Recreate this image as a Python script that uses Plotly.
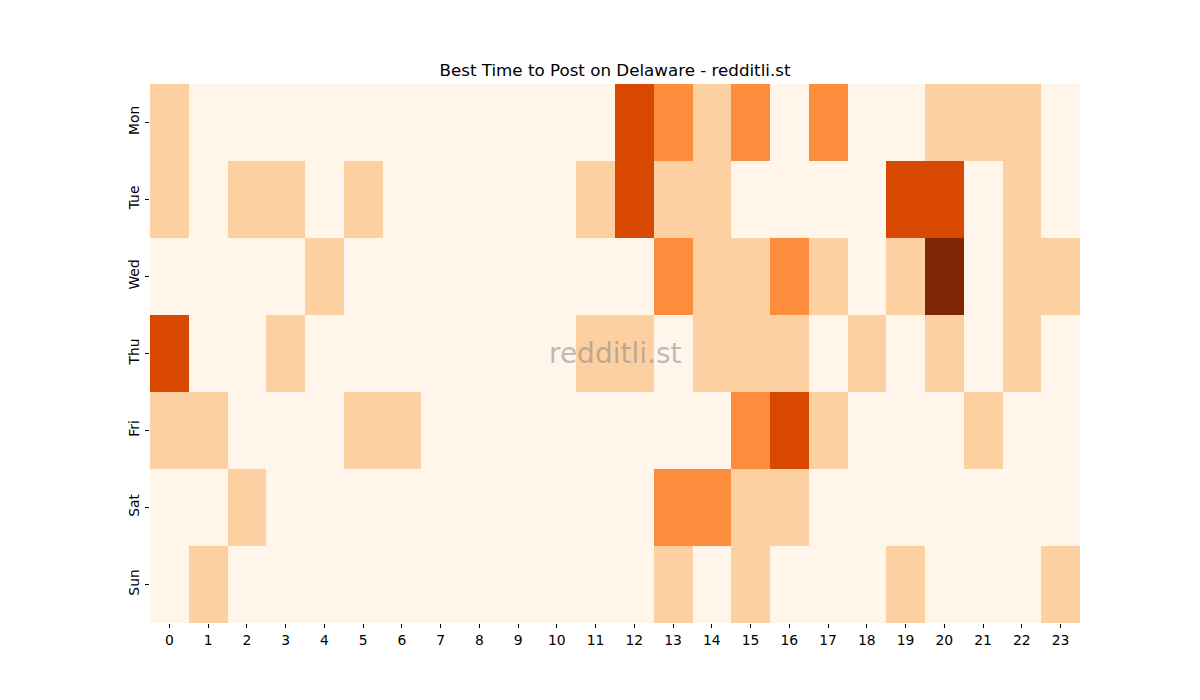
import plotly.graph_objects as go

days = ["Mon", "Tue", "Wed", "Thu", "Fri", "Sat", "Sun"]
hours = list(range(24))

mon = [1,0,0,0,0,0,0,0,0,0,0,0,3,2,1,2,0,2,0,0,1,1,1,0]
tue = [1,0,1,1,0,1,0,0,0,0,0,1,3,1,1,0,0,0,0,3,3,0,1,0]
wed = [0,0,0,0,1,0,0,0,0,0,0,0,0,2,1,1,2,1,0,1,4,0,1,1]
thu = [3,0,0,1,0,0,0,0,0,0,0,1,1,0,1,1,1,0,1,0,1,0,1,0]
fri = [1,1,0,0,0,1,1,0,0,0,0,0,0,0,0,2,3,1,0,0,0,1,0,0]
sat = [0,0,1,0,0,0,0,0,0,0,0,0,0,2,2,1,1,0,0,0,0,0,0,0]
sun = [0,1,0,0,0,0,0,0,0,0,0,0,0,1,0,1,0,0,0,1,0,0,0,1]

z = [mon, tue, wed, thu, fri, sat, sun]

colorscale = [
    [0.0, "#fff5eb"],
    [0.125, "#fff5eb"],
    [0.125, "#fdd0a2"],
    [0.375, "#fdd0a2"],
    [0.375, "#fd8d3c"],
    [0.625, "#fd8d3c"],
    [0.625, "#d94801"],
    [0.875, "#d94801"],
    [0.875, "#7f2704"],
    [1.0, "#7f2704"],
]

fig = go.Figure(go.Heatmap(
    z=z, x=hours, y=days, zmin=0, zmax=4,
    colorscale=colorscale, showscale=False, xgap=0, ygap=0,
))

font = "DejaVu Sans"
fig.update_layout(
    width=1200, height=700,
    margin=dict(l=150, r=120, t=84, b=77),
    paper_bgcolor="white", plot_bgcolor="white",
    font=dict(family=font, size=14, color="black"),
    title=dict(text="Best Time to Post on Delaware - redditli.st", x=0.5, xref="paper", xanchor="center",
               y=1 - 70/700, yanchor="middle", font=dict(family=font, size=16.7, color="black")),
    annotations=[dict(text="redditli.st", x=0.5, y=0.5, xref="paper", yref="paper",
                      showarrow=False, font=dict(family=font, size=28, color="rgba(128,128,128,0.5)"))],
)
fig.update_xaxes(tickmode="array", tickvals=hours, ticktext=[str(h) for h in hours],
                 ticks="outside", ticklen=4, tickcolor="black", showgrid=False, zeroline=False,
                 showline=False, range=[-0.5, 23.5], tickfont=dict(size=13.9))
fig.update_yaxes(autorange="reversed", ticks="outside", ticklen=4, tickcolor="black",
                 showgrid=False, zeroline=False, showline=False, tickangle=-90,
                 tickfont=dict(size=13.9))

fig.write_html("out.html")
